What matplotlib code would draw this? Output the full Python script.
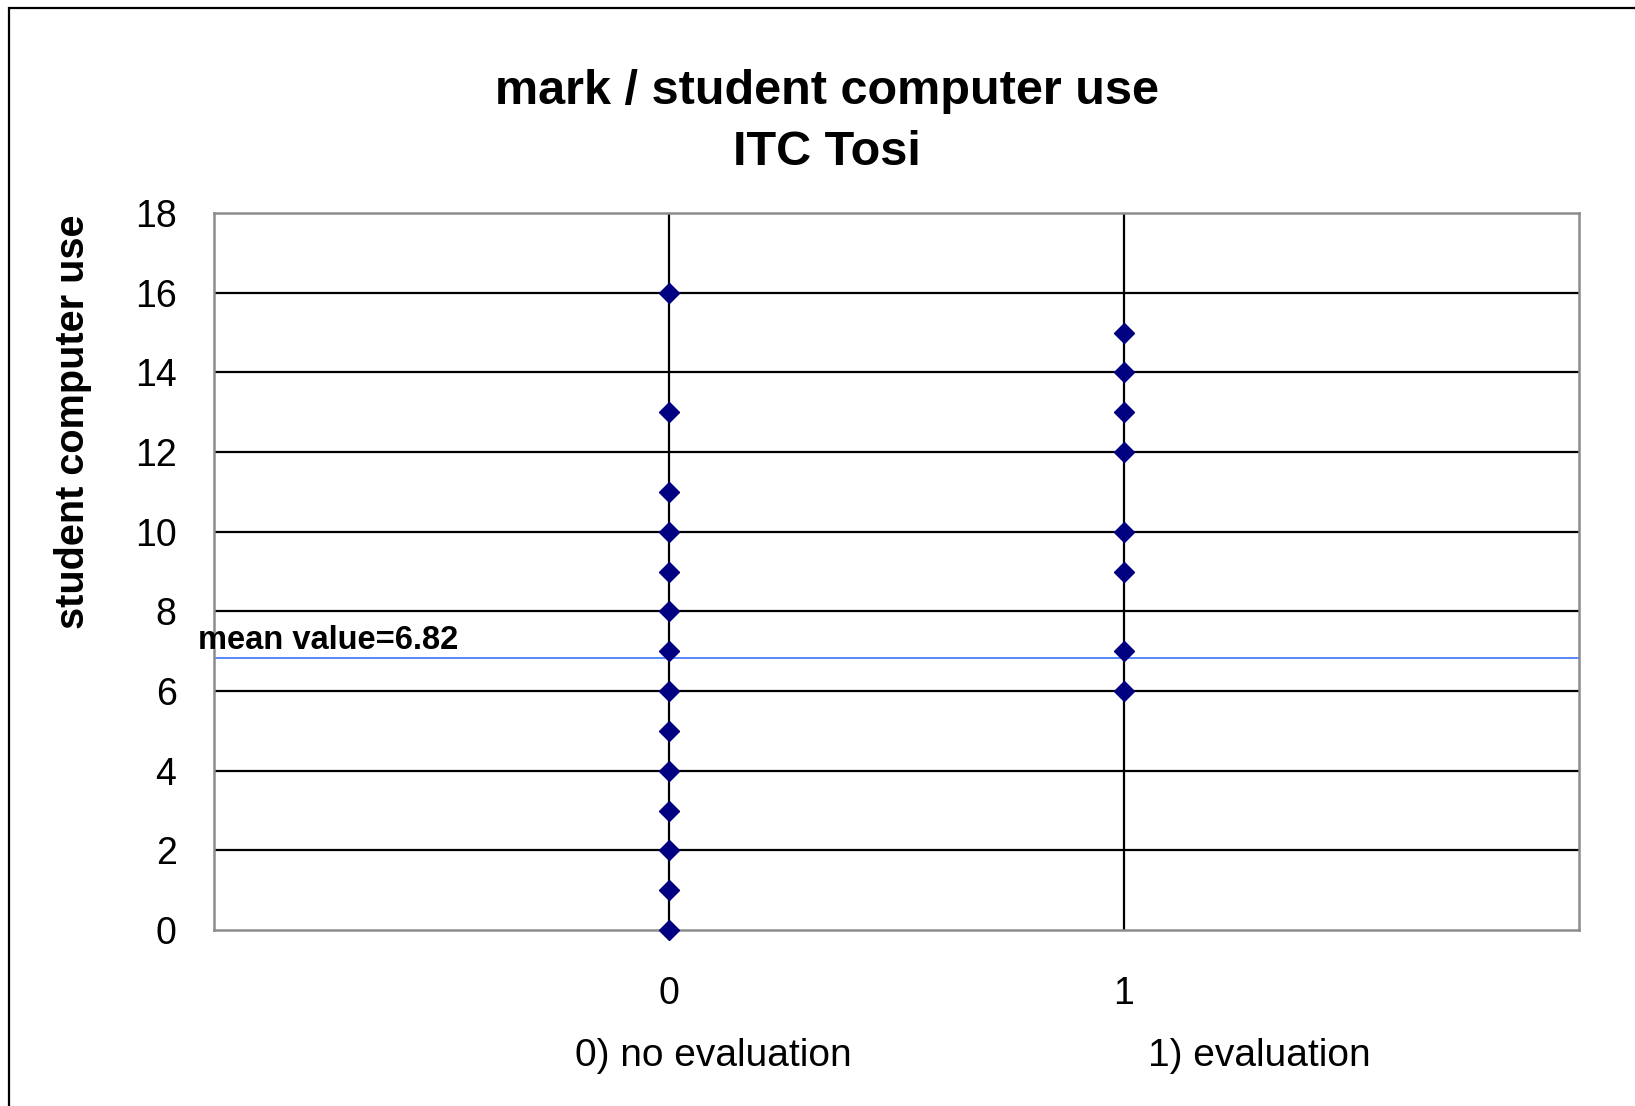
import matplotlib
matplotlib.use("Agg")
from matplotlib import pyplot as plt
from matplotlib.patches import Rectangle
import numpy as np

plt.rcParams['font.family'] = ['Liberation Sans', 'DejaVu Sans']

# data
x_no_eval = [0] * 14
y_no_eval = [16, 13, 11, 10, 9, 8, 7, 6, 5, 4, 3, 2, 1, 0]
x_eval = [1] * 8
y_eval = [15, 14, 13, 12, 10, 9, 7, 6]
mean_value = 6.82
xticks = [0, 1]
yticks = [0, 2, 4, 6, 8, 10, 12, 14, 16, 18]
group_labels = ["0) no evaluation", "1) evaluation"]

fig = plt.figure(figsize=(16.35, 11.06), dpi=100)
fig.patch.set_facecolor('white')

# outer chart frame (runs off the right / bottom edge)
fig.add_artist(Rectangle((9 / 1635, -0.05), 1.2, 1 - 8 / 1106 + 0.05,
                         transform=fig.transFigure, fill=False,
                         edgecolor='black', linewidth=1.6))

ax = fig.add_axes([214 / 1635, 1 - 930 / 1106, (1579 - 214) / 1635, (930 - 213) / 1106])

# grid
for yv in yticks[1:-1]:
    ax.axhline(yv, color='black', linewidth=1.6, zorder=1)
for xv in xticks:
    ax.axvline(xv, color='black', linewidth=1.6, zorder=1)

ax.axhline(mean_value, color='#4a7dff', linewidth=1.3, zorder=2)

ax.plot(x_no_eval, y_no_eval, linestyle='none', marker='D', markersize=10.5,
        color='#000080', zorder=3, clip_on=False)
ax.plot(x_eval, y_eval, linestyle='none', marker='D', markersize=10.5,
        color='#000080', zorder=3, clip_on=False)

ax.set_xlim(-1, 2)
ax.set_ylim(0, 18)
ax.set_xticks(xticks)
ax.set_yticks(yticks)
ax.tick_params(axis='both', length=0, labelsize=27, colors='black')
ax.tick_params(axis='y', pad=27)
ax.tick_params(axis='x', pad=33)
for s in ax.spines.values():
    s.set_color('#8c8c8c')
    s.set_linewidth(1.8)

ax.text(-1.035, mean_value + 0.06, "mean value=" + str(mean_value), fontsize=23.5,
        fontweight='bold', ha='left', va='bottom', zorder=4)

fig.text(827 / 1635, 1 - 92 / 1106, "mark / student computer use", fontsize=35,
         fontweight='bold', ha='center', va='center')
fig.text(827 / 1635, 1 - 153 / 1106, "ITC Tosi", fontsize=35,
         fontweight='bold', ha='center', va='center')

fig.text(73 / 1635, 1 - 422 / 1106, "student computer use", fontsize=28.5,
         fontweight='bold', rotation=90, ha='center', va='center')

fig.text(713 / 1635, 1 - 1056 / 1106, group_labels[0], fontsize=28,
         ha='center', va='center')
fig.text(1259 / 1635, 1 - 1056 / 1106, group_labels[1], fontsize=28,
         ha='center', va='center')

fig.savefig("out.png", dpi=100, facecolor='white')
